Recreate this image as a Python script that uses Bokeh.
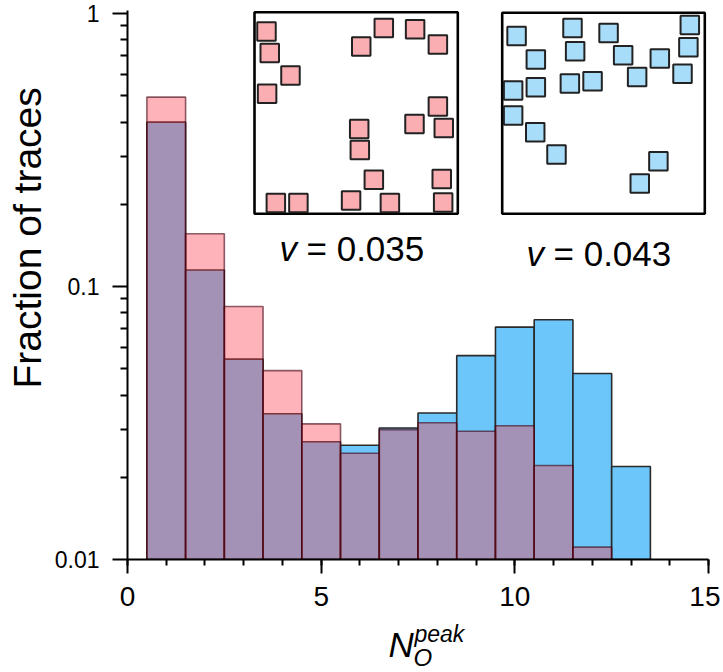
import math
from bokeh.plotting import figure
from bokeh.layouts import column
from bokeh.models import (Range1d, FixedTicker, Label, Title, ColumnDataSource, LinearScale)
from bokeh.embed import file_html
from bokeh.resources import INLINE

# ---------------- data ----------------
bin_centers_blue = [1, 2, 3, 4, 5, 6, 7, 8, 9, 10, 11, 12, 13]
frac_blue = [0.40, 0.115, 0.0542, 0.0342, 0.0270, 0.0262, 0.0303, 0.0344,
             0.0558, 0.0710, 0.0755, 0.048, 0.0219]
bin_centers_pink = [1, 2, 3, 4, 5, 6, 7, 8, 9, 10, 11, 12]
frac_pink = [0.494, 0.156, 0.0845, 0.0492, 0.0314, 0.0245, 0.0299, 0.0317,
             0.0295, 0.0309, 0.0221, 0.0111]

x_major_ticks = [0, 5, 10, 15]
x_minor_ticks = list(range(0, 16))
y_major_ticks = [0.01, 0.1, 1.0]
y_tick_labels = ["0.01", "0.1", "1"]
y_minor_ticks = [0.02, 0.03, 0.04, 0.05, 0.06, 0.07, 0.08, 0.09,
                 0.2, 0.3, 0.4, 0.5, 0.6, 0.7, 0.8, 0.9]

# inset configurations (positions inside each box, 0..1)
pink_sq_u = [0.059, 0.075, 0.177, 0.062, 0.636, 0.525, 0.790, 0.902, 0.902, 0.787,
             0.931, 0.515, 0.518, 0.587, 0.921, 0.105, 0.216, 0.475, 0.666, 0.928]
pink_sq_v = [0.904, 0.797, 0.686, 0.595, 0.922, 0.830, 0.916, 0.840, 0.532, 0.446,
             0.426, 0.421, 0.316, 0.169, 0.172, 0.053, 0.053, 0.066, 0.053, 0.056]
blue_sq_u = [0.071, 0.166, 0.347, 0.360, 0.525, 0.597, 0.778, 0.926, 0.919, 0.890,
             0.666, 0.446, 0.334, 0.166, 0.054, 0.054, 0.163, 0.268, 0.771, 0.679]
blue_sq_v = [0.884, 0.768, 0.924, 0.809, 0.900, 0.789, 0.773, 0.939, 0.829, 0.697,
             0.680, 0.660, 0.648, 0.630, 0.614, 0.489, 0.406, 0.295, 0.262, 0.151]

v_left_text = "= 0.035"
v_right_text = "= 0.043"
y_label_text = "Fraction of traces"

# ---------------- layout ----------------
W = 720
H_MAIN = 620
H_XLAB = 52
BL, BR, BT = 127, 12, 10
FW = W - BL - BR            # 581 px for 0..15
FH = 549                    # px from y=1.026 down to 0.01
BB = H_MAIN - BT - FH
DECADE_PX = 273.0
y_top = 0.01 * 10 ** (FH / DECADE_PX)

FONT = "Liberation Sans"

p = figure(width=W, height=H_MAIN, output_backend="svg", toolbar_location=None,
           x_range=Range1d(0, 15), y_range=Range1d(0.01, y_top),
           y_axis_type="log", min_border_left=BL, min_border_right=BR,
           min_border_top=BT, min_border_bottom=BB, title=None)
p.outline_line_color = None
p.xgrid.visible = False
p.ygrid.visible = False
p.background_fill_color = "white"
p.border_fill_color = "white"

for ax in (p.xaxis[0], p.yaxis[0]):
    ax.axis_line_width = 2
    ax.axis_line_color = "black"
    ax.major_tick_line_width = 2
    ax.minor_tick_line_width = 2
    ax.major_tick_line_color = "black"
    ax.minor_tick_line_color = "black"
    ax.major_tick_in = 0
    ax.minor_tick_in = 0
    ax.major_label_text_font = FONT
    ax.major_label_text_color = "black"

p.xaxis.ticker = FixedTicker(ticks=x_major_ticks, minor_ticks=x_minor_ticks)
p.xaxis.major_tick_out = 14
p.xaxis.minor_tick_out = 6
p.xaxis.major_label_text_font_size = "28px"
p.xaxis.major_label_standoff = 13

p.yaxis.ticker = FixedTicker(ticks=y_major_ticks, minor_ticks=y_minor_ticks)
p.yaxis.major_tick_out = 15
p.yaxis.minor_tick_out = 7
p.yaxis.major_label_text_font_size = "23px"
p.yaxis.major_label_standoff = 13
p.yaxis.major_label_overrides = {t: s for t, s in zip(y_major_ticks, y_tick_labels)}

# y axis title: starts (bottom end) at image y=388
p.add_layout(Title(text=y_label_text, align="left", offset=171,
                   vertical_align="top",
                   text_font=FONT, text_font_size="39px", text_font_style="normal",
                   text_color="black", standoff=2), "left")

# ---------------- histograms ----------------
src_b = ColumnDataSource(dict(left=[c - 0.5 for c in bin_centers_blue],
                              right=[c + 0.5 for c in bin_centers_blue],
                              top=frac_blue,
                              bottom=[0.01] * len(frac_blue)))
src_p = ColumnDataSource(dict(left=[c - 0.5 for c in bin_centers_pink],
                              right=[c + 0.5 for c in bin_centers_pink],
                              top=frac_pink,
                              bottom=[0.01] * len(frac_pink)))
p.quad(left="left", right="right", top="top", bottom="bottom", source=src_b,
       fill_color="#6CC6FA", line_color="#2a2a2a", line_width=1.6)
p.quad(left="left", right="right", top="top", bottom="bottom", source=src_p,
       fill_color="#F9424F", fill_alpha=0.4, line_color="#3d0010",
       line_alpha=0.6, line_width=1.6)

# ---------------- insets ----------------
FX0 = BL
FY1 = BT + FH


def add_inset(name, px_left, px_right, px_top, px_bottom):
    a = (px_left - FX0) / FW
    b = (px_right - FX0) / FW
    c = (FY1 - px_bottom) / FH
    d = (FY1 - px_top) / FH
    p.extra_x_ranges[name + "x"] = Range1d(-a / (b - a), (1 - a) / (b - a))
    p.extra_y_ranges[name + "y"] = Range1d(-c / (d - c), (1 - c) / (d - c))
    p.extra_x_scales[name + "x"] = LinearScale()
    p.extra_y_scales[name + "y"] = LinearScale()


add_inset("L", 254.0, 457.3, 11.7, 213.3)
add_inset("R", 501.7, 704.3, 12.3, 213.3)

for nm, us, vs, col in (("L", pink_sq_u, pink_sq_v, "#FBAEB1"),
                        ("R", blue_sq_u, blue_sq_v, "#A8DDFA")):
    p.quad(left=[0], right=[1], bottom=[0], top=[1], fill_color="white",
           line_color="black", line_width=2.6,
           x_range_name=nm + "x", y_range_name=nm + "y")
    p.scatter(x=us, y=vs, marker="square", size=18.5, fill_color=col,
              line_color="#222222", line_width=2,
              x_range_name=nm + "x", y_range_name=nm + "y")

BASE_FIX = 0.38   # empirical correction of baseline placement (fraction of font size)


def add_label(fig, fx0, fy1, text, px, py, size, style="normal"):
    py_eff = py - BASE_FIX * size
    fig.add_layout(Label(x=px - fx0, y=fy1 - py_eff, x_units="screen", y_units="screen",
                         text=text, text_font=FONT, text_font_size=f"{size}px",
                         text_font_style=style, text_align="left",
                         text_baseline="alphabetic", text_color="black"))


add_label(p, FX0, FY1, "v", 279.0, 261.7, 35, style="italic")
add_label(p, FX0, FY1, v_left_text, 306.0, 261.7, 35)
add_label(p, FX0, FY1, "v", 526.0, 266.7, 35, style="italic")
add_label(p, FX0, FY1, v_right_text, 553.0, 266.7, 35)

# ---------------- x axis label strip:  N_O^peak ----------------
px_lab = figure(width=W, height=H_XLAB, output_backend="svg", toolbar_location=None,
                x_range=Range1d(0, 15), y_range=Range1d(0, 1), title=None,
                min_border_left=BL, min_border_right=BR, min_border_top=0,
                min_border_bottom=0)
px_lab.axis.visible = False
px_lab.grid.visible = False
px_lab.outline_line_color = None
px_lab.background_fill_color = "white"
px_lab.border_fill_color = "white"
bot = H_MAIN + H_XLAB
add_label(px_lab, BL, bot, "N", 388.0, 657.0, 35, style="italic")
add_label(px_lab, BL, bot, "peak", 414.0, 642.0, 23, style="italic")
add_label(px_lab, BL, bot, "O", 413.0, 666.0, 24, style="italic")

layout = column(p, px_lab, spacing=0)
open("out.html", "w").write(file_html(layout, INLINE))
